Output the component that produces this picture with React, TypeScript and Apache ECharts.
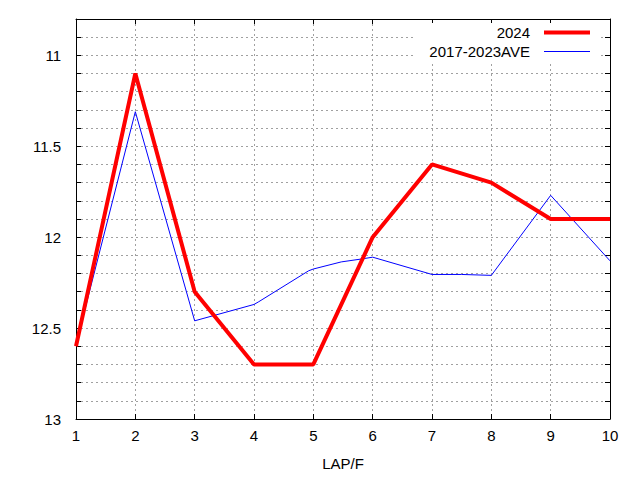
import React, { useEffect, useRef } from "react";
import * as echarts from "echarts";

const laps2024 = [1, 2, 3, 4, 5, 6, 7, 8, 9, 10];
const times2024 = [12.6, 11.1, 12.3, 12.7, 12.7, 12.0, 11.6, 11.7, 11.9, 11.9];

const lapsAve = [1, 2, 3, 4, 4.08, 4.92, 5, 5.47, 5.81, 6, 7, 7.5, 8, 9, 10];
const timesAve = [12.59, 11.31, 12.46, 12.37, 12.355, 12.185, 12.175, 12.136, 12.12, 12.11, 12.205, 12.205, 12.21, 11.77, 12.13];

const seriesNames = ["2024", "2017-2023AVE"];
const xName = "LAP/F";

const FONT = "Liberation Sans, Arial, sans-serif";

export default function App() {
  const ref = useRef<HTMLDivElement>(null);
  useEffect(() => {
    if (!ref.current) return;
    const chart = echarts.init(ref.current, undefined, { renderer: "svg" });
    const gridLine = { show: true, lineStyle: { color: "#a0a0a0", width: 1, type: [2, 3] as any } };
    const yCommon = {
      type: "value" as const,
      min: 10.8,
      max: 13,
      interval: 0.1,
      inverse: true,
      axisLine: { show: true, lineStyle: { color: "#000", width: 1 } },
      axisTick: { show: true, inside: true, length: 5, lineStyle: { color: "#000" } },
    };
    const xCommon = {
      type: "value" as const,
      min: 1,
      max: 10,
      interval: 1,
      axisLine: { show: true, lineStyle: { color: "#000", width: 1 } },
      axisTick: { show: true, inside: true, length: 5, lineStyle: { color: "#000" } },
    };
    const legendText = { color: "#000", fontSize: 15, fontFamily: FONT, padding: [0, 9, 0, 0] };
    chart.setOption({
      animation: false,
      backgroundColor: "#fff",
      grid: { left: 76, right: 30, top: 19, bottom: 61, containLabel: false },
      xAxis: [
        {
          ...xCommon,
          position: "bottom",
          name: xName,
          nameLocation: "middle",
          nameGap: 37,
          nameTextStyle: { color: "#000", fontSize: 15, fontFamily: FONT, verticalAlign: "top" },
          axisLabel: { color: "#000", fontSize: 15, fontFamily: FONT, margin: 9 },
          splitLine: gridLine,
        },
        {
          ...xCommon,
          position: "top",
          axisLabel: { show: false },
          splitLine: { show: false },
        },
      ],
      yAxis: [
        {
          ...yCommon,
          position: "left",
          axisLabel: {
            color: "#000",
            fontSize: 15,
            fontFamily: FONT,
            margin: 15,
            formatter: (v: number) => {
              const r = Math.round(v * 2);
              if (Math.abs(v * 2 - r) > 1e-6 || v < 10.95) return "";
              return String(Math.round(v * 10) / 10);
            },
          },
          splitLine: gridLine,
        },
        {
          ...yCommon,
          position: "right",
          axisLabel: { show: false },
          splitLine: { show: false },
        },
      ],
      legend: [
        {
          data: [{ name: seriesNames[0], icon: "rect", itemStyle: { color: "#ff0000" } }],
          orient: "vertical",
          align: "right",
          right: 50,
          top: 25,
          padding: 0,
          itemWidth: 46,
          itemHeight: 4,
          textStyle: legendText,
        },
        {
          data: [{ name: seriesNames[1], icon: "rect", itemStyle: { color: "#0000ff" } }],
          orient: "vertical",
          align: "right",
          right: 50,
          top: 44,
          padding: 0,
          itemWidth: 46,
          itemHeight: 1,
          textStyle: legendText,
        },
      ],
      graphic: [
        {
          type: "rect",
          shape: { x: 413, y: 23, width: 187, height: 38 },
          style: { fill: "#fff" },
          z: 1,
          silent: true,
        },
      ],
      series: [
        {
          name: seriesNames[1],
          type: "line",
          data: lapsAve.map((x, i) => [x, timesAve[i]]),
          symbol: "none",
          lineStyle: { color: "#0000ff", width: 1 },
          itemStyle: { color: "#0000ff" },
          z: 2,
        },
        {
          name: seriesNames[0],
          type: "line",
          data: laps2024.map((x, i) => [x, times2024[i]]),
          symbol: "none",
          lineStyle: { color: "#ff0000", width: 4 },
          itemStyle: { color: "#ff0000" },
          z: 3,
        },
      ],
    });
    return () => chart.dispose();
  }, []);
  return (
    <div
      ref={ref}
      style={{ position: "absolute", left: 0, top: 0, width: 640, height: 480, background: "#fff" }}
    />
  );
}
